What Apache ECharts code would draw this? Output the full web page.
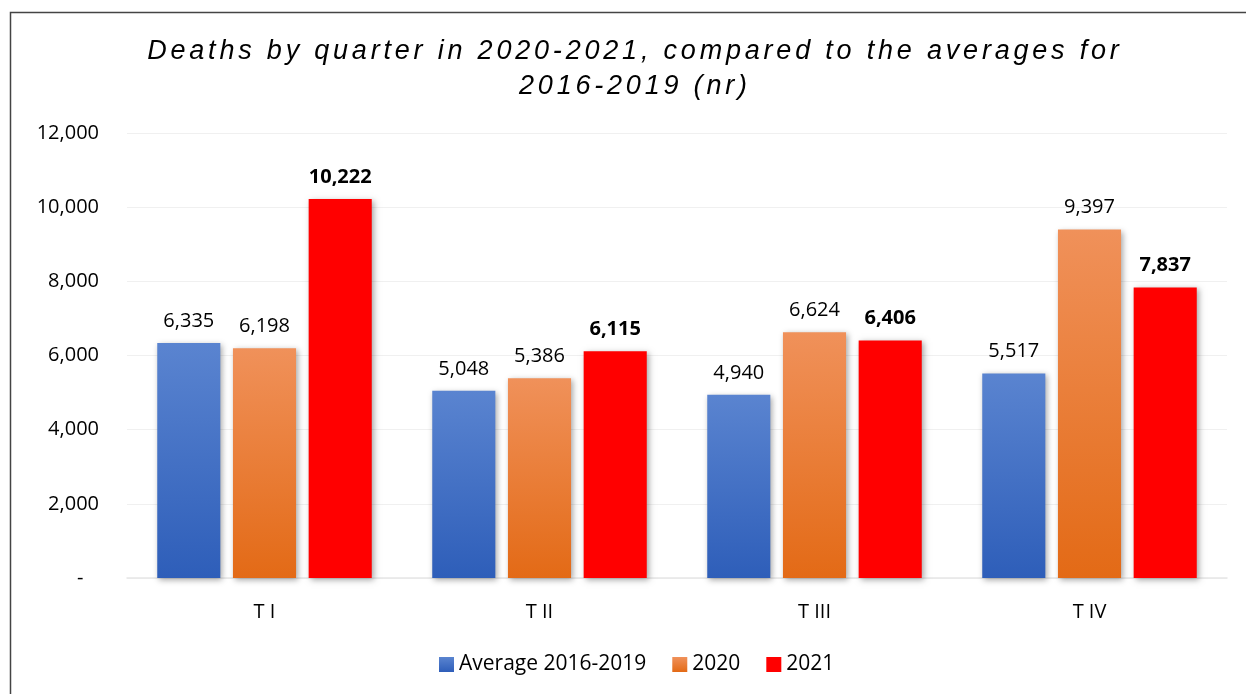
<!DOCTYPE html>
<html>
<head>
<meta charset="utf-8">
<script src="https://cdn.jsdelivr.net/npm/echarts@6/dist/echarts.min.js"></script>
<style>
  html, body { margin: 0; padding: 0; background: #ffffff; }
  #chart { width: 1246px; height: 694px; }
</style>
</head>
<body>
<div id="chart"></div>
<script>
// Quarters and death counts
const quarters = ['T I', 'T II', 'T III', 'T IV'];
const seriesNames = ['Average 2016-2019', '2020', '2021'];
const avg2016_2019 = [6335, 5048, 4940, 5517];
const deaths2020 = [6198, 5386, 6624, 9397];
const deaths2021 = [10222, 6115, 6406, 7837];
const titleLines = ['Deaths by quarter in 2020-2021, compared to the averages for', '2016-2019 (nr)'];

const chart = echarts.init(document.getElementById('chart'));

const fmt = v => v.toLocaleString('en-US');
const labelFont = 'Open Sans';

// Letter-spaced title: each character becomes its own rich-text token with side padding
const spacedTitle = titleLines
  .map(line => line.split('').map(ch => '{c|' + ch + '}').join(''))
  .join('\n');

function vGrad(top, bottom) {
  return new echarts.graphic.LinearGradient(0, 0, 0, 1, [
    { offset: 0, color: top },
    { offset: 1, color: bottom }
  ]);
}

const barShadow = {
  shadowBlur: 6,
  shadowColor: 'rgba(0,0,0,0.35)',
  shadowOffsetX: 2,
  shadowOffsetY: 2
};

function barSeries(name, data, color, bold) {
  return {
    name: name,
    type: 'bar',
    data: data,
    barGap: '20%',
    barCategoryGap: '22%',
    itemStyle: Object.assign({ color: color }, barShadow),
    label: {
      show: true,
      position: 'top',
      distance: 12,
      formatter: p => fmt(p.value),
      fontFamily: labelFont,
      fontSize: 20,
      fontWeight: bold ? 'bold' : 'normal',
      color: '#000000'
    }
  };
}

chart.setOption({
  backgroundColor: '#ffffff',
  animation: false,
  title: {
    text: spacedTitle,
    left: 633,
    top: 34,
    padding: 0,
    textAlign: 'center',
    textStyle: {
      fontFamily: 'Liberation Sans',
      fontStyle: 'italic',
      fontWeight: 'normal',
      fontSize: 27,
      lineHeight: 35,
      color: '#000000',
      rich: {
        c: {
          fontFamily: 'Liberation Sans',
          fontStyle: 'italic',
          fontSize: 27,
          lineHeight: 35,
          color: '#000000',
          padding: [0, 1.9, 0, 1.9]
        }
      }
    }
  },
  graphic: [{
    type: 'rect',
    shape: { x: 10.5, y: 12.5, width: 1300, height: 800 },
    style: { fill: 'none', stroke: '#444444', lineWidth: 1.5 },
    silent: true
  }],
  legend: {
    bottom: 14,
    left: 434,
    itemWidth: 15,
    itemHeight: 15,
    itemGap: 26,
    icon: 'rect',
    textStyle: { fontFamily: labelFont, fontSize: 21, color: '#000000' },
    data: seriesNames
  },
  grid: { left: 127, right: 19, top: 133, bottom: 116 },
  xAxis: {
    type: 'category',
    data: quarters,
    axisLine: { show: true, lineStyle: { color: '#e6e6e6', width: 1.5 } },
    axisTick: { show: false },
    axisLabel: {
      fontFamily: labelFont,
      fontSize: 20,
      color: '#000000',
      margin: 24
    }
  },
  yAxis: {
    type: 'value',
    min: 0,
    max: 12000,
    interval: 2000,
    axisLine: { show: false },
    axisTick: { show: false },
    splitLine: { lineStyle: { color: '#f0f0f0', width: 1 } },
    axisLabel: {
      fontFamily: labelFont,
      fontSize: 20,
      color: '#000000',
      margin: 28,
      formatter: v => v === 0 ? '-   ' : fmt(v)
    }
  },
  series: [
    barSeries(seriesNames[0], avg2016_2019, vGrad('#5a84d0', '#2e5eb9'), false),
    barSeries(seriesNames[1], deaths2020, vGrad('#f0915a', '#e36a16'), false),
    barSeries(seriesNames[2], deaths2021, '#ff0000', true)
  ]
});
</script>
</body>
</html>
